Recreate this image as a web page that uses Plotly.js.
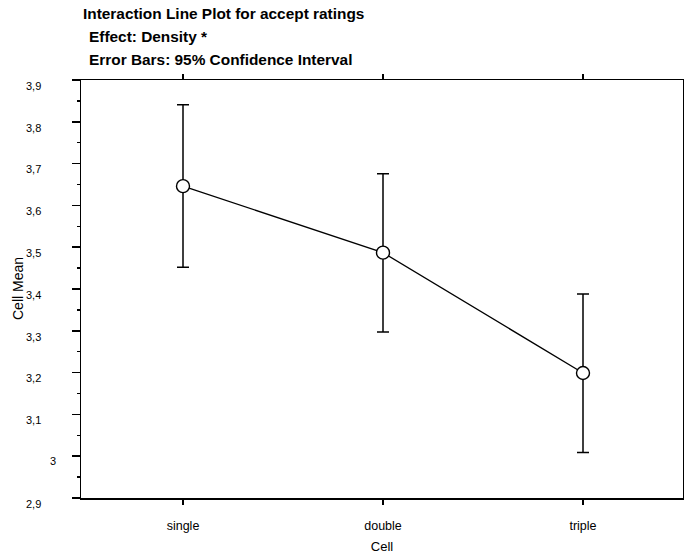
<!DOCTYPE html>
<html>
<head>
<meta charset="utf-8">
<script src="https://cdn.plot.ly/plotly-3.0.1.min.js"></script>
<style>html,body{margin:0;padding:0;background:#fff;}</style>
</head>
<body>
<div id="chart" style="width:684px;height:558px;"></div>
<script>
const categories = ["single", "double", "triple"];
const cellMeans = [3.646, 3.487, 3.199];
const ciUpper = [0.195, 0.189, 0.189];
const ciLower = [0.194, 0.190, 0.190];
const yTickVals = [2.9, 3.0, 3.1, 3.2, 3.3, 3.4, 3.5, 3.6, 3.7, 3.8, 3.9];
const yTickText = ["2,9", "", "3,1", "3,2", "3,3", "3,4", "3,5", "3,6", "3,7", "3,8", "3,9"];
const titleLines = ["Interaction Line Plot for accept ratings", "Effect: Density *", "Error Bars: 95% Confidence Interval"];
const yTitle = "Cell Mean";
const xTitle = "Cell";

const FONT = "Arial, 'Liberation Sans', sans-serif";

const trace = {
  type: "scatter",
  mode: "lines+markers",
  x: [0, 1, 2],
  y: cellMeans,
  line: {color: "#000", width: 1.3},
  marker: {symbol: "circle", size: 13, color: "#fff", line: {color: "#000", width: 1.4}},
  error_y: {type: "data", symmetric: false, array: ciUpper, arrayminus: ciLower,
            color: "#000", thickness: 1.5, width: 6},
  hoverinfo: "skip",
  showlegend: false
};

const titleFont = {family: FONT, size: 15.4, color: "#000000"};
const annotations = titleLines.map((t, i) => ({
  text: "<b>" + t + "</b>", xref: "paper", yref: "paper",
  x: 0, xshift: i === 0 ? 0 : 6, y: 1, yshift: [67, 44, 21][i],
  xanchor: "left", yanchor: "middle", showarrow: false, font: titleFont
}));
// y-axis title
annotations.push({
  text: yTitle, textangle: -90, xref: "paper", yref: "paper", x: 0, xshift: -63, y: 0.5,
  xanchor: "center", yanchor: "middle", showarrow: false,
  font: {family: FONT, size: 14, color: "#000000"}
});
// the "3" tick label sits further right in the original
annotations.push({
  text: "3", xref: "paper", yref: "y", x: 0, xshift: -28, y: 3.0, yshift: -5,
  xanchor: "center", yanchor: "middle", showarrow: false,
  font: {family: FONT, size: 11, color: "#000000"}
});

const layout = {
  width: 684, height: 558,
  margin: {l: 81, r: 1, t: 80, b: 60},
  paper_bgcolor: "#fff", plot_bgcolor: "#fff",
  separators: ",.",
  font: {family: FONT, color: "#000", size: 11},
  xaxis: {
    range: [-0.51, 2.5], tickmode: "array", tickvals: [0, 1, 2], ticktext: categories,
    showgrid: false, zeroline: false, showline: true, linecolor: "#000", linewidth: 1.5,
    mirror: "ticks", ticks: "outside", ticklen: 5, tickwidth: 1.5, tickcolor: "#000",
    ticklabelstandoff: 10,
    tickfont: {family: FONT, size: 12.5, color: "#000"},
    title: {text: xTitle, font: {family: FONT, size: 13, color: "#000"}, standoff: 10}
  },
  yaxis: {
    range: [2.9, 3.9], tickmode: "array", tickvals: yTickVals, ticktext: yTickText,
    showgrid: false, zeroline: false, showline: true, linecolor: "#000", linewidth: 1.5,
    mirror: "ticks", ticks: "outside", ticklen: 8, tickwidth: 1.5, tickcolor: "#000",
    minor: {dtick: 0.05, ticks: "outside", ticklen: 3, tickwidth: 1.5, tickcolor: "#000", showgrid: false},
    ticklabelstandoff: 28, ticklabelshift: 6,
    tickfont: {family: FONT, size: 11, color: "#000"}
  },
  annotations: annotations
};

Plotly.newPlot("chart", [trace], layout, {displayModeBar: false, staticPlot: true});
</script>
</body>
</html>
